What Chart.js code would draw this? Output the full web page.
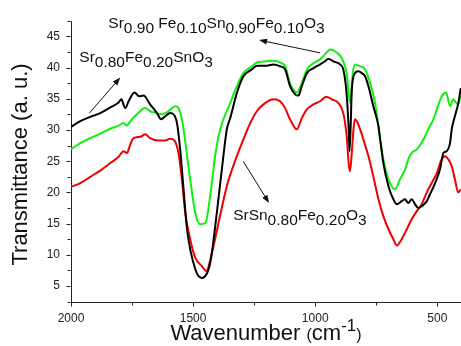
<!DOCTYPE html>
<html>
<head>
<meta charset="utf-8">
<script src="https://cdn.jsdelivr.net/npm/chart.js@4.4.1/dist/chart.umd.min.js"></script>
<style>
  html, body { margin: 0; padding: 0; background: #fff; }
</style>
</head>
<body>
<canvas id="ftir" width="461" height="346"></canvas>
<script>
// wavenumber (cm-1) / transmittance pairs

// Sr0.80Fe0.20SnO3 (black)
const wnBlack = [2000,1962,1921,1880,1839,1805,1794,1778,1764,1740,1721,1703,1676,1648,1631,1614,1594,1580,1566,1553,1539,1525,1491,1464,1430,1403,1376,1362,1348,1321,1294,1259,1239,1198,1171,1144,1123,1103,1082,1069,1055,1034,1007,980,960,946,926,898,885,873,864,859,850,837,823,809,796,782,762,741,734,721,700,680,666,646,632,619,605,591,578,564,543,530,509,489,475,462,448,441,428,414,404];
const tBlack = [30.5,31.4,32.1,32.7,33.6,34.4,34.9,33.5,34.6,36.0,35.4,35.5,34.1,32.7,31.7,32.2,32.7,32.5,31.1,26.9,20.5,14.1,7.7,6.3,8.7,16.7,25.8,30.1,31.9,35.9,38.6,39.7,40.3,40.3,40.5,40.2,39.7,37.0,35.7,35.5,37.0,39.1,39.9,40.5,41.0,41.4,41.0,40.5,39.7,36.5,31.1,26.6,36.5,39.1,39.4,39.1,38.6,37.0,33.8,30.6,28.5,24.7,21.0,18.9,18.1,18.6,18.9,18.3,18.9,18.1,17.5,17.8,18.6,19.7,21.5,23.7,26.3,26.6,27.9,30.1,32.2,34.3,36.7];

// Sr0.90Fe0.10Sn0.90Fe0.10O3 (green)
const wnGreen = [2000,1962,1921,1880,1839,1805,1785,1771,1757,1730,1696,1676,1648,1628,1601,1573,1560,1546,1539,1512,1491,1471,1450,1430,1410,1389,1348,1321,1294,1259,1239,1198,1171,1137,1123,1103,1075,1055,1034,1007,980,960,939,912,891,878,871,857,846,837,816,796,775,755,734,721,700,673,653,632,619,605,584,564,550,537,516,502,482,464,448,435,417,404];
const tGreen = [26.9,27.9,28.7,29.4,30.2,30.7,31.1,30.7,31.4,32.5,33.5,33.0,32.7,32.5,33.0,33.8,33.5,31.7,30.1,22.1,16.7,14.9,15.1,19.4,25.8,30.1,34.3,37.0,39.1,40.2,40.8,41.0,41.1,40.7,40.2,37.5,36.0,37.5,39.7,40.7,41.3,42.1,42.9,42.4,41.5,40.2,39.1,34.3,39.1,40.5,40.2,39.7,37.5,34.3,28.5,25.3,22.1,20.5,22.1,23.7,25.3,26.3,26.9,28.0,29.0,30.1,31.7,33.3,35.4,36.0,33.8,34.9,34.1,35.4];

// SrSn0.80Fe0.20O3 (red)
const wnRed = [2000,1962,1921,1880,1839,1805,1785,1771,1757,1744,1716,1696,1676,1642,1614,1594,1576,1560,1546,1532,1512,1491,1464,1446,1423,1396,1362,1321,1294,1266,1239,1212,1171,1144,1123,1103,1075,1055,1034,1007,980,955,932,905,885,871,859,837,816,803,782,762,741,721,700,680,666,646,625,605,584,564,543,523,502,482,468,455,441,428,414,404];
const tRed = [20.9,21.5,22.5,23.5,24.7,25.7,26.6,26.3,27.7,28.7,28.9,29.3,28.7,28.3,28.3,28.6,28.3,26.3,22.1,16.7,12.5,9.5,8.2,7.4,10.3,15.1,21.0,25.8,28.5,31.1,33.0,34.1,34.9,34.6,33.5,31.7,30.1,31.9,33.3,34.1,34.6,35.3,34.9,34.3,32.7,29.0,23.4,31.7,30.1,28.5,25.8,22.6,18.9,16.2,14.1,12.5,11.5,12.5,14.1,15.7,17.0,18.1,20.0,21.5,23.1,25.3,25.8,25.3,24.2,22.1,20.0,20.5];

const xTicks = [500, 1000, 1500, 2000];
const xMinor = [750, 1250, 1750];
const yTicks = [5, 10, 15, 20, 25, 30, 35, 40, 45];
const yMinor = [2.5, 7.5, 12.5, 17.5, 22.5, 27.5, 32.5, 37.5, 42.5, 47.5];

// annotation text: [text, isSubscript]
const labelTop = [['Sr',0],['0.90',1],[' Fe',0],['0.10',1],['Sn',0],['0.90',1],['Fe',0],['0.10',1],['O',0],['3',1]];
const labelLeft = [['Sr',0],['0.80',1],['Fe',0],['0.20',1],['SnO',0],['3',1]];
const labelLow = [['SrSn',0],['0.80',1],['Fe',0],['0.20',1],['O',0],['3',1]];
const labelAt = [[1847, 46.4], [1966, 40.9], [1336, 15.6]];

// arrows in data units: [fromX, fromY, toX, toY], head at "to"
const arrows = [
  [1925, 32.7, 1798, 38.4],
  [980, 42.35, 1230, 44.4],
  [1295, 25.0, 1189, 18.3]
];

const FONT = "'Liberation Sans', Arial, sans-serif";
const INK = '#222';

const toPoints = (xs, ys) => xs.map((x, i) => ({ x: x, y: ys[i] }));

function drawRich(ctx, parts, x, y, size, subSize, drop) {
  ctx.textBaseline = 'alphabetic';
  ctx.textAlign = 'left';
  parts.forEach(([txt, sub]) => {
    ctx.font = (sub ? subSize : size) + 'px ' + FONT;
    ctx.fillText(txt, x, sub ? y + drop : y);
    x += ctx.measureText(txt).width;
  });
}

function drawArrow(ctx, x1, y1, x2, y2) {
  const ang = Math.atan2(y2 - y1, x2 - x1);
  const len = 8, half = 3;
  ctx.beginPath();
  ctx.moveTo(x1, y1);
  ctx.lineTo(x2 - Math.cos(ang) * len * 0.8, y2 - Math.sin(ang) * len * 0.8);
  ctx.stroke();
  ctx.beginPath();
  ctx.moveTo(x2, y2);
  ctx.lineTo(x2 - Math.cos(ang) * len + Math.sin(ang) * half, y2 - Math.sin(ang) * len - Math.cos(ang) * half);
  ctx.lineTo(x2 - Math.cos(ang) * len - Math.sin(ang) * half, y2 - Math.sin(ang) * len + Math.cos(ang) * half);
  ctx.closePath();
  ctx.fill();
}

const decorations = {
  id: 'decorations',
  afterDraw(chart) {
    const ctx = chart.ctx;
    const xs = chart.scales.x, ys = chart.scales.y;
    const area = chart.chartArea;
    ctx.save();
    ctx.strokeStyle = INK;
    ctx.fillStyle = INK;
    ctx.lineWidth = 1;

    // tick marks, pointing out of the plot
    const axX = Math.round(area.left) - 0.5;
    const axY = Math.round(area.bottom) + 0.5;
    ctx.beginPath();
    yTicks.forEach(v => { const p = Math.round(ys.getPixelForValue(v)) + 0.5; ctx.moveTo(axX, p); ctx.lineTo(axX - 4, p); });
    yMinor.forEach(v => { const p = Math.round(ys.getPixelForValue(v)) + 0.5; ctx.moveTo(axX, p); ctx.lineTo(axX - 3, p); });
    xTicks.forEach(v => { const p = Math.round(xs.getPixelForValue(v)) + 0.5; ctx.moveTo(p, axY); ctx.lineTo(p, axY + 4); });
    xMinor.forEach(v => { const p = Math.round(xs.getPixelForValue(v)) + 0.5; ctx.moveTo(p, axY); ctx.lineTo(p, axY + 3); });
    ctx.stroke();

    // axis titles
    ctx.fillStyle = '#111';
    ctx.save();
    ctx.translate(27, (area.top + area.bottom) / 2 + 3);
    ctx.rotate(-Math.PI / 2);
    ctx.font = '22px ' + FONT;
    ctx.textAlign = 'center';
    ctx.textBaseline = 'alphabetic';
    ctx.fillText('Transmittance (a. u.)', 0, 0);
    ctx.restore();

    const xt = [['Wavenumber ', 22, 0], ['(', 16, 0], ['cm', 22, 0], ['-1', 17, -9], [')', 16, 0]];
    let w = 0;
    xt.forEach(([t, s]) => { ctx.font = s + 'px ' + FONT; w += ctx.measureText(t).width; });
    let cx = (area.left + area.right) / 2 - w / 2;
    ctx.textAlign = 'left';
    ctx.textBaseline = 'alphabetic';
    xt.forEach(([t, s, dy]) => {
      ctx.font = s + 'px ' + FONT;
      ctx.fillText(t, cx, 340 + dy);
      cx += ctx.measureText(t).width;
    });

    // compound labels
    [labelTop, labelLeft, labelLow].forEach((parts, i) => {
      const px = xs.getPixelForValue(labelAt[i][0]);
      const py = ys.getPixelForValue(labelAt[i][1]);
      drawRich(ctx, parts, px, py, 15.5, 15.5, 5.5);
    });

    // arrows
    ctx.strokeStyle = '#111';
    ctx.fillStyle = '#111';
    arrows.forEach(a => {
      drawArrow(ctx, xs.getPixelForValue(a[0]), ys.getPixelForValue(a[1]),
                     xs.getPixelForValue(a[2]), ys.getPixelForValue(a[3]));
    });
    ctx.restore();
  }
};

const line = (label, xs, ys, color) => ({
  label: label,
  data: toPoints(xs, ys),
  borderColor: color,
  borderWidth: 2,
  pointRadius: 0,
  fill: false,
  cubicInterpolationMode: 'monotone'
});

new Chart(document.getElementById('ftir').getContext('2d'), {
  type: 'line',
  data: {
    datasets: [
      line('Sr0.80Fe0.20SnO3', wnBlack, tBlack, '#000000'),
      line('Sr0.90Fe0.10Sn0.90Fe0.10O3', wnGreen, tGreen, '#11ee11'),
      line('SrSn0.80Fe0.20O3', wnRed, tRed, '#f00000')
    ]
  },
  options: {
    responsive: false,
    animation: false,
    devicePixelRatio: 1,
    layout: { padding: { top: 21, right: 0, left: 0, bottom: 0 } },
    plugins: {
      legend: { display: false },
      tooltip: { enabled: false }
    },
    scales: {
      x: {
        type: 'linear',
        reverse: true,
        min: 403,
        max: 2000,
        grid: { display: false, tickLength: 4 },
        border: { display: true, color: INK, width: 1 },
        ticks: {
          font: { family: FONT, size: 12 }, color: INK, padding: 5, maxRotation: 0, autoSkip: false,
          callback: v => String(v)
        },
        afterBuildTicks: s => { s.ticks = xTicks.map(v => ({ value: v })); },
        afterFit: s => { s.height = 44; }
      },
      y: {
        min: 2.45,
        max: 47.45,
        grid: { display: false, tickLength: 4 },
        border: { display: true, color: INK, width: 1 },
        ticks: {
          font: { family: FONT, size: 12 }, color: INK, padding: 7, autoSkip: false,
          callback: v => String(v)
        },
        afterBuildTicks: s => { s.ticks = yTicks.map(v => ({ value: v })); },
        afterFit: s => { s.width = 71; }
      }
    }
  },
  plugins: [decorations]
});
</script>
</body>
</html>
